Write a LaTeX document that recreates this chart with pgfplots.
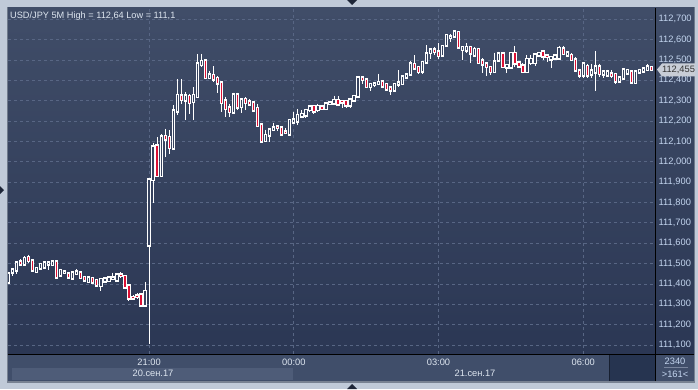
\documentclass[border=0pt]{standalone}
\usepackage{pgfplots}
\pgfplotsset{compat=1.18}
\usepackage{pgfplotstable}
\usepackage{fontspec}
\setmainfont{Liberation Sans}
\definecolor{framebg}{RGB}{192,202,216}
\definecolor{panelborder}{RGB}{120,130,146}
\definecolor{bgtop}{RGB}{64,77,104}
\definecolor{bgbot}{RGB}{43,55,84}
\definecolor{gridc}{RGB}{88,102,132}
\definecolor{timebg}{RGB}{64,78,106}
\definecolor{bandbg}{RGB}{78,92,120}
\definecolor{darkbox}{RGB}{38,52,80}
\definecolor{candred}{RGB}{220,16,52}
\definecolor{upfill}{RGB}{55,67,95}
\definecolor{ticktext}{RGB}{196,214,240}
\definecolor{labtext}{RGB}{222,230,240}
\definecolor{tri}{RGB}{30,38,56}
\definecolor{markerbg}{RGB}{200,205,214}

\pgfplotstableread{
i o h l c
0 111.41 111.46 111.40 111.45
1 111.457 111.476 111.44 111.47
2 111.466 111.51 111.45 111.505
3 111.51 111.52 111.49 111.497
4 111.497 111.535 111.49 111.526
5 111.53 111.544 111.505 111.514
6 111.515 111.52 111.46 111.466
7 111.46 111.481 111.452 111.477
8 111.477 111.50 111.47 111.497
9 111.482 111.506 111.478 111.503
10 111.497 111.507 111.47 111.503
11 111.494 111.513 111.49 111.51
12 111.507 111.51 111.425 111.433
13 111.444 111.474 111.437 111.466
14 111.456 111.466 111.452 111.459
15 111.451 111.456 111.43 111.434
16 111.428 111.456 111.417 111.454
17 111.45 111.472 111.447 111.459
18 111.456 111.46 111.426 111.43
19 111.433 111.44 111.411 111.417
20 111.411 111.436 111.403 111.43
21 111.428 111.433 111.403 111.408
22 111.417 111.42 111.39 111.395
23 111.392 111.425 111.367 111.422
24 111.414 111.43 111.41 111.424
25 111.416 111.434 111.412 111.431
26 111.425 111.455 111.423 111.43
27 111.418 111.451 111.415 111.446
28 111.444 111.458 111.431 111.44
29 111.438 111.44 111.378 111.384
30 111.392 111.395 111.315 111.33
31 111.335 111.345 111.325 111.331
32 111.342 111.355 111.328 111.338
33 111.346 111.35 111.295 111.297
34 111.297 111.41 111.294 111.364
35 111.591 111.915 111.103 111.91
36 111.912 112.094 111.799 112.073
37 112.077 112.12 111.926 111.932
38 111.932 112.135 111.93 112.122
39 112.125 112.163 112.024 112.112
40 112.12 112.155 112.04 112.07
41 112.066 112.278 112.06 112.25
42 112.25 112.405 112.228 112.327
43 112.325 112.405 112.283 112.305
44 112.303 112.343 112.207 112.325
45 112.322 112.335 112.235 112.29
46 112.295 112.367 112.207 112.327
47 112.32 112.53 112.314 112.48
48 112.477 112.53 112.464 112.493
49 112.495 112.50 112.408 112.413
50 112.413 112.447 112.408 112.426
51 112.424 112.47 112.394 112.405
52 112.41 112.42 112.34 112.385
53 112.388 112.393 112.246 112.29
54 112.30 112.32 112.218 112.26
55 112.266 112.284 112.222 112.246
56 112.243 112.34 112.238 112.328
57 112.328 112.34 112.254 112.268
58 112.27 112.312 112.24 112.304
59 112.307 112.318 112.254 112.29
60 112.295 112.306 112.274 112.284
61 112.29 112.295 112.25 112.253
62 112.262 112.285 112.175 112.178
63 112.18 112.188 112.09 112.10
64 112.103 112.158 112.10 112.13
65 112.13 112.162 112.098 112.158
66 112.158 112.192 112.155 112.168
67 112.172 112.175 112.15 112.168
68 112.166 112.168 112.13 112.135
69 112.146 112.166 112.135 112.142
70 112.135 112.207 112.13 112.204
71 112.194 112.245 112.188 112.207
72 112.20 112.26 112.18 112.228
73 112.224 112.253 112.214 112.233
74 112.229 112.26 112.217 112.253
75 112.256 112.276 112.246 112.27
76 112.272 112.276 112.237 112.25
77 112.256 112.285 112.245 112.272
78 112.27 112.272 112.258 112.26
79 112.261 112.286 112.258 112.283
80 112.287 112.294 112.284 112.29
81 112.289 112.325 112.283 112.302
82 112.302 112.322 112.273 112.282
83 112.297 112.302 112.265 112.294
84 112.297 112.302 112.266 112.278
85 112.278 112.31 112.266 112.305
86 112.302 112.327 112.299 112.322
87 112.322 112.417 112.319 112.412
88 112.413 112.417 112.38 112.404
89 112.404 112.407 112.36 112.368
90 112.368 112.384 112.348 112.38
91 112.378 112.392 112.368 112.383
92 112.384 112.433 112.38 112.39
93 112.392 112.393 112.37 112.372
94 112.38 112.384 112.35 112.358
95 112.364 112.367 112.327 112.351
96 112.351 112.387 112.347 112.38
97 112.38 112.45 112.368 112.387
98 112.384 112.42 112.375 112.417
99 112.417 112.436 112.408 112.428
100 112.43 112.495 112.425 112.482
101 112.479 112.523 112.45 112.461
102 112.463 112.47 112.43 112.443
103 112.446 112.492 112.433 112.489
104 112.49 112.572 112.485 112.531
105 112.535 112.556 112.507 112.551
106 112.551 112.564 112.523 112.54
107 112.541 112.584 112.507 112.521
108 112.523 112.572 112.515 112.567
109 112.572 112.626 112.564 112.621
110 112.609 112.628 112.59 112.615
111 112.618 112.64 112.613 112.638
112 112.636 112.64 112.56 112.562
113 112.55 112.562 112.50 112.562
114 112.549 112.582 112.533 112.562
115 112.562 112.569 112.484 112.533
116 112.525 112.562 112.52 112.553
117 112.553 112.559 112.484 112.487
118 112.497 112.508 112.438 112.48
119 112.48 112.487 112.422 112.467
120 112.464 112.467 112.427 112.443
121 112.443 112.536 112.438 112.492
122 112.50 112.541 112.492 112.53
123 112.53 112.536 112.459 112.467
124 112.464 112.476 112.435 112.474
125 112.464 112.536 112.459 112.533
126 112.533 112.569 112.467 112.484
127 112.487 112.497 112.459 112.471
128 112.471 112.484 112.435 112.443
129 112.443 112.525 112.438 112.503
130 112.487 112.525 112.476 112.503
131 112.487 112.533 112.469 112.525
132 112.525 112.536 112.517 112.533
133 112.54 112.549 112.50 112.52
134 112.52 112.52 112.492 112.517
135 112.503 112.513 112.459 112.513
136 112.508 112.525 112.50 112.52
137 112.508 112.569 112.503 112.557
138 112.556 112.569 112.53 112.531
139 112.523 112.541 112.52 112.535
140 112.523 112.533 112.497 112.502
141 112.502 112.513 112.443 112.449
142 112.446 112.458 112.409 112.425
143 112.425 112.482 112.409 112.482
144 112.469 112.482 112.409 112.425
145 112.43 112.482 112.409 112.446
146 112.441 112.544 112.348 112.466
147 112.466 112.482 112.417 112.433
148 112.43 112.446 112.409 112.441
149 112.425 112.453 112.417 112.441
150 112.433 112.449 112.409 112.423
151 112.43 112.436 112.38 112.397
152 112.397 112.413 112.395 112.412
153 112.412 112.458 112.41 112.453
154 112.436 112.453 112.433 112.449
155 112.441 112.446 112.387 112.392
156 112.389 112.446 112.387 112.441
157 112.44 112.458 112.433 112.449
158 112.446 112.462 112.44 112.456
159 112.453 112.479 112.449 112.466
160 112.463 112.466 112.449 112.453
}\candles

\begin{document}
\begin{tikzpicture}[x=1pt,y=1pt]
\useasboundingbox (0,0) rectangle (698,389);
\fill[framebg] (0,0) rectangle (698,389);
\fill[tri] (347,389) -- (357,389) -- (352,384) -- cycle;
\fill[tri] (347,0) -- (357,0) -- (352,5) -- cycle;
\fill[tri] (0,195) -- (0,203) -- (4,199) -- cycle;
\fill[panelborder] (7,6) rectangle (695,382);
\fill[timebg] (8,8) rectangle (694,35);
\fill[bandbg] (12,9) rectangle (293,21);
\fill[darkbox] (610,8) rectangle (655,35);
\shade[top color=bgtop, bottom color=bgbot] (655,35) rectangle (694,381);
\begin{axis}[
  at={(8pt,35pt)}, anchor=south west,
  scale only axis, width=647pt, height=346pt,
  xmin=-0.1, xmax=160.85, ymin=111.0558, ymax=112.7552,
  axis background/.style={top color=bgtop, bottom color=bgbot},
  axis line style={draw=none}, tick style={draw=none},
  major tick length=0pt,
  scaled y ticks=false,
  /pgf/number format/assume math mode=true,
  xtick={35,71,107,143}, xticklabels={21:00,00:00,03:00,06:00},
  ytick={111.1,111.2,111.3,111.4,111.5,111.6,111.7,111.8,111.9,112.0,112.1,112.2,112.3,112.4,112.5,112.6,112.7},
  yticklabel pos=right,
  grid=major,
  major grid style={draw=gridc, dash pattern=on 3pt off 3pt, line width=0.8pt},
  xticklabel style={font=\fontsize{9.3}{10}\selectfont, text=labtext, anchor=center, yshift=-8pt},
  yticklabel style={font=\fontsize{9.3}{10}\selectfont, text=ticktext, anchor=west, inner sep=0pt, xshift=3.5pt,
    /pgf/number format/.cd, fixed, fixed zerofill, precision=3, use comma, 1000 sep={}},
  every axis plot/.append style={no markers},
]
% wicks
\addplot[draw=none, no markers, forget plot,
  error bars/.cd, y dir=minus, y explicit, error mark=none,
  error bar style={draw=white, line width=1pt}]
  table[x=i, y=h, y error minus expr={\thisrow{h}-\thisrow{l}}] {\candles};
% body outlines (all)
\addplot[draw=none, no markers, forget plot,
  error bars/.cd, y dir=minus, y explicit, error mark=none,
  error bar style={draw=white, line width=3.3pt, line cap=rect}]
  table[x=i, y expr={max(\thisrow{o},\thisrow{c})}, y error minus expr={abs(\thisrow{o}-\thisrow{c})}] {\candles};
% up body interiors
\addplot[draw=none, no markers, forget plot,
  restrict expr to domain={\thisrow{c}-\thisrow{o}}{0.0005:5},
  error bars/.cd, y dir=minus, y explicit, error mark=none,
  error bar style={draw=upfill, line width=1.3pt, line cap=butt}]
  table[x=i, y=c, y error minus expr={\thisrow{c}-\thisrow{o}}] {\candles};
% down body interiors
\addplot[draw=none, no markers, forget plot,
  restrict expr to domain={\thisrow{o}-\thisrow{c}}{0.0005:5},
  error bars/.cd, y dir=minus, y explicit, error mark=none,
  error bar style={draw=candred, line width=1.3pt, line cap=butt}]
  table[x=i, y=o, y error minus expr={\thisrow{o}-\thisrow{c}}] {\candles};
\end{axis}
\draw[black, line width=1pt] (655.5,8) -- (655.5,381);
\draw[black, line width=1pt] (8,34.5) -- (694,34.5);
\draw[darkbox!60!black, line width=0.8pt] (609.5,8) -- (609.5,34);
% title
\node[anchor=base west, inner sep=0pt, text=labtext, font=\fontsize{9.2}{11}\selectfont] at (10,370.5) {USD/JPY 5M High = 112,64 Low = 111,1};
% dates
\node[text=labtext, font=\fontsize{9.3}{10}\selectfont, inner sep=0pt] at (153,15.5) {20.сен.17};
\node[text=labtext, font=\fontsize{9.3}{10}\selectfont, inner sep=0pt] at (475,15.5) {21.сен.17};
% bottom right cell
\node[text=ticktext, font=\fontsize{9.3}{10}\selectfont, inner sep=0pt] at (675,27.5) {2340};
\draw[gridc!80!white, line width=0.8pt] (664,22) -- (688,22);
\node[text=ticktext, font=\fontsize{9.3}{10}\selectfont, inner sep=0pt] at (675,15) {>161<};
% price marker
\fill[markerbg] (657,319.5) -- (662,325.5) -- (695,325.5) -- (695,312.5) -- (662,312.5) -- cycle;
\node[text=black!80, font=\fontsize{9.3}{10}\selectfont, inner sep=0pt] at (678.5,319) {112,455};
\end{tikzpicture}
\end{document}
